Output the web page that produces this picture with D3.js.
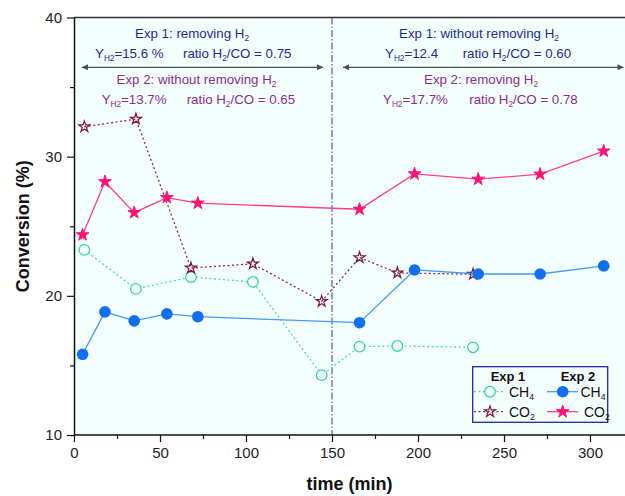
<!DOCTYPE html>
<html><head><meta charset="utf-8">
<script src="https://cdn.jsdelivr.net/npm/d3@7"></script>
<style>
body{margin:0;background:#fff}
svg{display:block;font-family:Arial,"Liberation Sans",sans-serif}
</style>
</head><body><svg id="chart" width="625" height="496"></svg>
<script>
// Sampling times (min) and conversions (%) for the two experiments
const exp1Time = [6, 36, 68, 104, 144, 166, 188, 232];
const exp1CH4 = [23.3, 20.5, 21.35, 21.0, 14.3, 16.35, 16.4, 16.3];
const exp1CO2 = [32.15, 32.7, 22.0, 22.3, 19.6, 22.75, 21.65, 21.55];
const exp2Time = [5, 18, 35, 54, 72, 166, 198, 235, 271, 308];
const exp2CH4 = [15.8, 18.85, 18.2, 18.7, 18.5, 18.07, 21.86, 21.57, 21.57, 22.15];
const exp2CO2 = [24.38, 28.2, 25.98, 27.06, 26.66, 26.22, 28.76, 28.38, 28.74, 30.4];
const xTicks = [0, 50, 100, 150, 200, 250, 300];
const xMinorTicks = [25, 75, 125, 175, 225, 275, 325];
const yTicks = [10, 20, 30, 40];
const yMinorTicks = [15, 25, 35];
const switchTime = 150;

const svg = d3.select("#chart");
const x = d3.scaleLinear().domain([0, 300]).range([74, 590]);
const y = d3.scaleLinear().domain([10, 40]).range([435, 17.5]);
const bg = "#f3fffd";

// plot background
svg.append("rect").attr("x", x(0)).attr("y", y(40))
  .attr("width", 625 - x(0)).attr("height", y(10) - y(40)).attr("fill", bg);

// top frame
svg.append("line").attr("x1", x(0)).attr("x2", 625).attr("y1", y(40)).attr("y2", y(40))
  .attr("stroke", "#333").attr("stroke-width", 1.5);

// axes
const xAxis = svg.append("g").attr("transform", `translate(0,${y(10)})`)
  .call(d3.axisBottom(x).tickValues(xTicks).tickSize(7).tickSizeOuter(0).tickPadding(5));
xAxis.select(".domain").attr("d", `M${x(0)},0H625`);
svg.append("g").attr("transform", `translate(0,${y(10)})`)
  .call(d3.axisBottom(x).tickValues(xMinorTicks.filter(t => x(t) < 625)).tickSize(4).tickFormat(""))
  .call(g => g.select(".domain").remove());
svg.append("g").attr("transform", `translate(${x(0)},0)`)
  .call(d3.axisLeft(y).tickValues(yTicks).tickSize(7).tickSizeOuter(0).tickPadding(5));
svg.append("g").attr("transform", `translate(${x(0)},0)`)
  .call(d3.axisLeft(y).tickValues(yMinorTicks).tickSize(4).tickFormat(""))
  .call(g => g.select(".domain").remove());
svg.selectAll(".domain").attr("stroke", "#111").attr("stroke-width", 1.5);
svg.selectAll(".tick line").attr("stroke", "#111").attr("stroke-width", 1.2);
svg.selectAll(".tick text").attr("font-size", 15).attr("fill", "#222")
  .attr("font-family", "Arial, 'Liberation Sans', sans-serif");

// axis titles
svg.append("text").attr("x", (x(0) + 625) / 2).attr("y", 490).attr("text-anchor", "middle")
  .attr("font-size", 18).attr("font-weight", "bold").attr("fill", "#111").text("time (min)");
svg.append("text").attr("transform", `translate(29,${(y(10) + y(40)) / 2}) rotate(-90)`)
  .attr("text-anchor", "middle").attr("font-size", 18).attr("font-weight", "bold")
  .attr("fill", "#111").text("Conversion (%)");

// vertical line where the operating mode is switched
svg.append("line").attr("x1", x(switchTime)).attr("x2", x(switchTime))
  .attr("y1", y(40)).attr("y2", y(10)).attr("stroke", "#3535b0").attr("stroke-width", 1)
  .attr("stroke-dasharray", "7,2,1.5,2");

// double-headed arrows spanning each period
const defs = svg.append("defs");
["start", "end"].forEach(k => {
  defs.append("marker").attr("id", "arr-" + k).attr("viewBox", "0 0 10 10")
    .attr("refX", k === "end" ? 10 : 0).attr("refY", 5)
    .attr("markerWidth", 11).attr("markerHeight", 6).attr("markerUnits", "userSpaceOnUse")
    .attr("orient", "auto")
    .append("path").attr("d", k === "end" ? "M0,0L10,5L0,10Z" : "M10,0L0,5L10,10Z")
    .attr("fill", "#4d4d4d");
});
[[4.6, 144.8], [156.4, 319.5]].forEach(([a, b]) => {
  svg.append("line").attr("x1", x(a)).attr("x2", x(b)).attr("y1", 67.3).attr("y2", 67.3)
    .attr("stroke", "#4d4d4d").attr("stroke-width", 1.3)
    .attr("marker-start", "url(#arr-start)").attr("marker-end", "url(#arr-end)");
});

// rich text helper: parts are [text, "sub"|null]
function rich(parent, px, py, parts, opts) {
  const size = opts.size || 13.3;
  const t = parent.append("text").attr("x", px).attr("y", py)
    .attr("font-size", size).attr("fill", opts.color || "#111")
    .attr("font-weight", opts.weight || "normal")
    .attr("text-anchor", opts.anchor || "start");
  parts.forEach(([s, kind]) => {
    const ts = t.append("tspan").text(s);
    if (kind === "sub") ts.attr("font-size", size * 0.62).attr("baseline-shift", "-32%");
  });
  return t;
}
const c1 = "#1d2b8e", c2 = "#8f2a91";
// left period
rich(svg, 192, 38, [["Exp 1: removing H"], ["2", "sub"]], {color: c1, anchor: "middle"});
rich(svg, 95, 57.7, [["Y"], ["H2", "sub"], ["=15.6 %"]], {color: c1});
rich(svg, 183, 57.7, [["ratio H"], ["2", "sub"], ["/CO = 0.75"]], {color: c1});
rich(svg, 196.5, 84, [["Exp 2: without removing H"], ["2", "sub"]], {color: c2, anchor: "middle"});
rich(svg, 101.7, 104, [["Y"], ["H2", "sub"], ["=13.7%"]], {color: c2});
rich(svg, 186.7, 104, [["ratio H"], ["2", "sub"], ["/CO = 0.65"]], {color: c2});
// right period
rich(svg, 479, 38, [["Exp 1: without removing H"], ["2", "sub"]], {color: c1, anchor: "middle"});
rich(svg, 385, 57.7, [["Y"], ["H2", "sub"], ["=12.4"]], {color: c1});
rich(svg, 462.7, 57.7, [["ratio H"], ["2", "sub"], ["/CO = 0.60"]], {color: c1});
rich(svg, 481, 84, [["Exp 2: removing H"], ["2", "sub"]], {color: c2, anchor: "middle"});
rich(svg, 383, 104, [["Y"], ["H2", "sub"], ["=17.7%"]], {color: c2});
rich(svg, 469.3, 104, [["ratio H"], ["2", "sub"], ["/CO = 0.78"]], {color: c2});

// series definitions
const series = [
  {t: exp1Time, v: exp1CH4, color: "#36d3a3", line: "#4fd9b0", dash: "2,2.5", shape: "circle", filled: false},
  {t: exp1Time, v: exp1CO2, color: "#7d1340", line: "#8a2a55", dash: "2,2.5", shape: "star", filled: false},
  {t: exp2Time, v: exp2CH4, color: "#0f6ff0", line: "#4a98f0", dash: null, shape: "circle", filled: true},
  {t: exp2Time, v: exp2CO2, color: "#ff1277", line: "#ff3d8c", dash: null, shape: "star", filled: true},
];
const lineGen = d3.line().x(d => x(d[0])).y(d => y(d[1]));

function marker(sel, s) {
  if (s.shape === "circle") {
    sel.append("circle").attr("r", s.filled ? 5.8 : 5.3)
      .attr("fill", s.filled ? s.color : bg).attr("stroke", s.color).attr("stroke-width", s.filled ? 0 : 1.3);
  } else {
    sel.append("path").attr("d", d3.symbol(d3.symbolStar, s.filled ? 50 : 38)())
      .attr("fill", s.filled ? s.color : "none").attr("stroke", s.color)
      .attr("stroke-width", s.filled ? 1 : 1.2).attr("stroke-linejoin", "miter");
  }
}

series.forEach(s => {
  const pts = s.t.map((t, i) => [t, s.v[i]]);
  svg.append("path").datum(pts).attr("d", lineGen).attr("fill", "none")
    .attr("stroke", s.line).attr("stroke-width", 1.3)
    .attr("stroke-dasharray", s.dash);
  pts.forEach(p => {
    const g = svg.append("g").attr("transform", `translate(${x(p[0])},${y(p[1])})`);
    marker(g, s);
  });
});

// legend
const lg = svg.append("g");
lg.append("rect").attr("x", 472.7).attr("y", 366.7).attr("width", 135).attr("height", 55.6)
  .attr("fill", bg).attr("stroke", "#2424a0").attr("stroke-width", 1.3);
lg.append("text").attr("x", 508).attr("y", 381).attr("text-anchor", "middle")
  .attr("font-size", 13).attr("font-weight", "bold").attr("fill", "#111").text("Exp 1");
lg.append("text").attr("x", 578).attr("y", 381).attr("text-anchor", "middle")
  .attr("font-size", 13).attr("font-weight", "bold").attr("fill", "#111").text("Exp 2");
const legendRows = [
  {s: series[0], lx: 474, cx: 490, tx: 509, cy: 391.7, label: "CH"},
  {s: series[1], lx: 474, cx: 490, tx: 509, cy: 411.7, label: "CO"},
  {s: series[2], lx: 547, cx: 562.7, tx: 580.5, cy: 391.7, label: "CH"},
  {s: series[3], lx: 547, cx: 562.7, tx: 584, cy: 411.7, label: "CO"},
];
legendRows.forEach(r => {
  lg.append("line").attr("x1", r.lx).attr("x2", r.lx + 31).attr("y1", r.cy).attr("y2", r.cy)
    .attr("stroke", r.s.line).attr("stroke-width", 1.3).attr("stroke-dasharray", r.s.dash);
  const g = lg.append("g").attr("transform", `translate(${r.cx},${r.cy})`);
  marker(g, r.s);
  rich(lg, r.tx, r.cy + 5, [[r.label], [r.label === "CH" ? "4" : "2", "sub"]], {color: "#111", size: 14});
});
</script>
</body></html>
